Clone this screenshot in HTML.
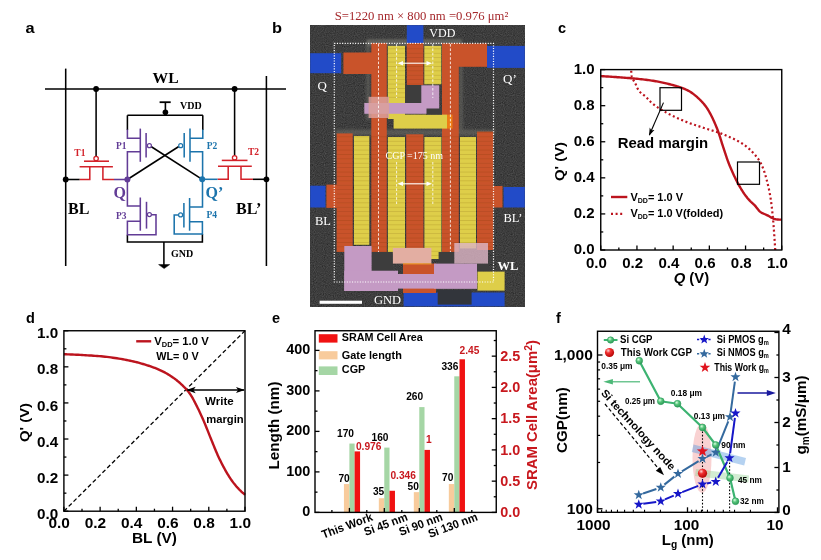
<!DOCTYPE html>
<html><head><meta charset="utf-8"><title>SRAM figure</title>
<style>html,body{margin:0;padding:0;background:#fff;}svg{display:block}</style></head>
<body><svg width="821" height="560" viewBox="0 0 821 560">
<defs>
<filter id="grain" x="0" y="0" width="100%" height="100%" color-interpolation-filters="sRGB">
<feTurbulence type="fractalNoise" baseFrequency="0.9" numOctaves="1" seed="7" result="n"/>
<feColorMatrix in="n" type="matrix" values="0.13 0.13 0.13 0 0.045  0.13 0.13 0.13 0 0.045  0.13 0.13 0.13 0 0.045  0 0 0 0 1"/>
</filter>
<filter id="soft" x="-2%" y="-2%" width="104%" height="104%"><feGaussianBlur stdDeviation="0.55"/></filter>
<filter id="soft2" x="-5%" y="-5%" width="110%" height="110%"><feGaussianBlur stdDeviation="1.3"/></filter>
<pattern id="stripes" width="4" height="4.4" patternUnits="userSpaceOnUse">
<rect x="0" y="0" width="4" height="0.8" fill="#5a2a00" fill-opacity="0.16"/>
</pattern>
<clipPath id="semclip"><rect x="310.2" y="25.2" width="214.6" height="281.2"/></clipPath>
<radialGradient id="gball" cx="0.38" cy="0.32" r="0.7">
<stop offset="0" stop-color="#d9ffe0"/><stop offset="0.45" stop-color="#55c47a"/><stop offset="1" stop-color="#2f9a55"/>
</radialGradient>
<radialGradient id="rball" cx="0.36" cy="0.3" r="0.75">
<stop offset="0" stop-color="#ffd0d0"/><stop offset="0.35" stop-color="#f03030"/><stop offset="1" stop-color="#b00000"/>
</radialGradient>
<marker id="ahk" viewBox="0 0 10 10" refX="9" refY="5" markerWidth="7" markerHeight="7" orient="auto-start-reverse"><path d="M0,1.5 L10,5 L0,8.5 L2.5,5 z" fill="#000"/></marker>
</defs>

<rect width="821" height="560" fill="#fff"/>
<text transform="translate(25.5,33) scale(1.13,1)" font-family="'Liberation Sans', sans-serif" font-size="14.5" font-weight="bold" fill="#000" text-anchor="start" >a</text>
<line x1="45" y1="89" x2="286" y2="89" stroke="#000" stroke-width="1.55" />
<line x1="65.7" y1="68.6" x2="65.7" y2="266" stroke="#000" stroke-width="1.55" />
<line x1="266.4" y1="76" x2="266.4" y2="266" stroke="#000" stroke-width="1.55" />
<circle cx="96.1" cy="89" r="2.9" fill="#000" stroke="none" stroke-width="1" />
<circle cx="234.6" cy="89" r="2.9" fill="#000" stroke="none" stroke-width="1" />
<line x1="96.1" y1="89" x2="96.1" y2="156" stroke="#000" stroke-width="1.55" />
<line x1="234.6" y1="89" x2="234.6" y2="155.5" stroke="#000" stroke-width="1.55" />
<text transform="translate(165.6,83.3)" font-family="'Liberation Serif', serif" font-size="15.6" font-weight="bold" fill="#000" text-anchor="middle" >WL</text>
<line x1="159.6" y1="102.2" x2="170.7" y2="102.2" stroke="#000" stroke-width="1.8" />
<line x1="165.4" y1="102.2" x2="165.4" y2="115.3" stroke="#000" stroke-width="1.6" />
<circle cx="165.4" cy="112.3" r="2.8" fill="#000" stroke="none" stroke-width="1" />
<text transform="translate(180,109.3)" font-family="'Liberation Serif', serif" font-size="10" font-weight="bold" fill="#000" text-anchor="start" >VDD</text>
<path d="M127.4,115.3 H202.9" stroke="#000" stroke-width="1.55" fill="none" />
<path d="M127.4,234.8 V242 H202.4 V234" stroke="#000" stroke-width="1.55" fill="none" />
<line x1="163.9" y1="242" x2="163.9" y2="265" stroke="#000" stroke-width="1.55" />
<path d="M158.6,264.6 H169.7 L164.1,268.6 Z" stroke="#000" stroke-width="0.5" fill="#000" />
<text transform="translate(171,257.4)" font-family="'Liberation Serif', serif" font-size="10" font-weight="bold" fill="#000" text-anchor="start" >GND</text>
<circle cx="96.1" cy="158.5" r="2.2" fill="#fff" stroke="#d3222a" stroke-width="1.3" />
<line x1="84" y1="161.2" x2="109" y2="161.2" stroke="#d3222a" stroke-width="1.55" />
<line x1="79.6" y1="166.8" x2="112.9" y2="166.8" stroke="#d3222a" stroke-width="1.55" />
<path d="M79.6,179.5 H89.8 V166.8 M102.9,166.8 V179.5 H114" stroke="#d3222a" stroke-width="1.55" fill="none" />
<line x1="65.7" y1="179.5" x2="79.6" y2="179.5" stroke="#000" stroke-width="1.55" />
<line x1="114" y1="179.5" x2="127.4" y2="179.5" stroke="#623c96" stroke-width="1.55" />
<circle cx="65.7" cy="179.5" r="2.9" fill="#000" stroke="none" stroke-width="1" />
<text transform="translate(74.3,156.4)" font-family="'Liberation Serif', serif" font-size="9.5" font-weight="bold" fill="#d3222a" text-anchor="start" >T1</text>
<circle cx="234.6" cy="157.8" r="2.2" fill="#fff" stroke="#d3222a" stroke-width="1.3" />
<line x1="221.8" y1="160.4" x2="247.5" y2="160.4" stroke="#d3222a" stroke-width="1.55" />
<line x1="218" y1="166.3" x2="251.8" y2="166.3" stroke="#d3222a" stroke-width="1.55" />
<path d="M217.5,179.3 H228.2 V166.3 M241,166.3 V179.3 H252.9" stroke="#d3222a" stroke-width="1.55" fill="none" />
<line x1="252.9" y1="179.3" x2="266.4" y2="179.3" stroke="#000" stroke-width="1.55" />
<line x1="202.4" y1="179.3" x2="217.5" y2="179.3" stroke="#1c74ac" stroke-width="1.55" />
<circle cx="266.4" cy="179.3" r="2.9" fill="#000" stroke="none" stroke-width="1" />
<text transform="translate(248,155.4)" font-family="'Liberation Serif', serif" font-size="9.5" font-weight="bold" fill="#d3222a" text-anchor="start" >T2</text>
<line x1="151" y1="146.5" x2="202.2" y2="179.3" stroke="#000" stroke-width="1.55" />
<line x1="178.8" y1="146.5" x2="127.4" y2="179.5" stroke="#000" stroke-width="1.55" />
<path d="M127.4,115.3 V130" stroke="#000" stroke-width="1.55" fill="none" />
<path d="M127.4,129.5 V138.2 H140.3 M140.3,151.7 H127.4 V179.5" stroke="#623c96" stroke-width="1.55" fill="none" />
<line x1="140.3" y1="128.6" x2="140.3" y2="161.8" stroke="#623c96" stroke-width="1.55" />
<line x1="146.1" y1="132.9" x2="146.1" y2="157.5" stroke="#623c96" stroke-width="1.55" />
<circle cx="149.4" cy="145.7" r="2.0" fill="#fff" stroke="#623c96" stroke-width="1.2" />
<text transform="translate(116,149)" font-family="'Liberation Serif', serif" font-size="9.5" font-weight="bold" fill="#623c96" text-anchor="start" >P1</text>
<path d="M202.8,115.3 V130" stroke="#000" stroke-width="1.55" fill="none" />
<path d="M202.8,129.5 V138.2 H190 M190,151.7 H202.6 V179.3" stroke="#1c74ac" stroke-width="1.55" fill="none" />
<line x1="190" y1="128.6" x2="190" y2="161.8" stroke="#1c74ac" stroke-width="1.55" />
<line x1="184.2" y1="132.9" x2="184.2" y2="157.5" stroke="#1c74ac" stroke-width="1.55" />
<circle cx="180.7" cy="145.7" r="2.0" fill="#fff" stroke="#1c74ac" stroke-width="1.2" />
<text transform="translate(206.8,149)" font-family="'Liberation Serif', serif" font-size="9.5" font-weight="bold" fill="#1c74ac" text-anchor="start" >P2</text>
<path d="M127.4,179.5 V206 H140.3 M140.3,221.2 H127.4 V234.8 H156 V214.7 H151.3" stroke="#623c96" stroke-width="1.55" fill="none" />
<line x1="140.3" y1="197.5" x2="140.3" y2="230.7" stroke="#623c96" stroke-width="1.55" />
<line x1="146.5" y1="201.8" x2="146.5" y2="228.6" stroke="#623c96" stroke-width="1.55" />
<circle cx="149.4" cy="214.6" r="2.0" fill="#fff" stroke="#623c96" stroke-width="1.2" />
<text transform="translate(116,218.5)" font-family="'Liberation Serif', serif" font-size="9.5" font-weight="bold" fill="#623c96" text-anchor="start" >P3</text>
<path d="M202.5,179.3 V207 H189.6 M189.6,221.7 H202.4 V234 H174.2 V214.9 H178.5" stroke="#1c74ac" stroke-width="1.55" fill="none" />
<line x1="189.6" y1="198" x2="189.6" y2="230.7" stroke="#1c74ac" stroke-width="1.55" />
<line x1="183.9" y1="202.9" x2="183.9" y2="227.5" stroke="#1c74ac" stroke-width="1.55" />
<circle cx="180.6" cy="214.9" r="2.0" fill="#fff" stroke="#1c74ac" stroke-width="1.2" />
<text transform="translate(206.4,217.9)" font-family="'Liberation Serif', serif" font-size="9.5" font-weight="bold" fill="#1c74ac" text-anchor="start" >P4</text>
<circle cx="127.4" cy="179.5" r="3" fill="#623c96" stroke="none" stroke-width="1" />
<circle cx="202.2" cy="179.3" r="3" fill="#1c74ac" stroke="none" stroke-width="1" />
<text transform="translate(113.5,197.5)" font-family="'Liberation Serif', serif" font-size="16" font-weight="bold" fill="#623c96" text-anchor="start" >Q</text>
<text transform="translate(205.5,197.5)" font-family="'Liberation Serif', serif" font-size="16" font-weight="bold" fill="#1c74ac" text-anchor="start" >Q’</text>
<text transform="translate(68,213.6)" font-family="'Liberation Serif', serif" font-size="16" font-weight="bold" fill="#000" text-anchor="start" >BL</text>
<text transform="translate(236,213.6)" font-family="'Liberation Serif', serif" font-size="16" font-weight="bold" fill="#000" text-anchor="start" >BL’</text>
<text transform="translate(272,33) scale(1.13,1)" font-family="'Liberation Sans', sans-serif" font-size="14.5" font-weight="bold" fill="#000" text-anchor="start" >b</text>
<text transform="translate(334.8,20.3)" font-family="'Liberation Serif', serif" font-size="12.3" font-weight="normal" fill="#a5282c" text-anchor="start"  textLength="173.5" lengthAdjust="spacingAndGlyphs">S=1220 nm × 800 nm =0.976 μm²</text>
<g clip-path="url(#semclip)"><g filter="url(#soft)">
<rect x="310.20" y="25.20" width="214.60" height="281.20" fill="#484848" filter="url(#grain)"/>
<g filter="url(#soft2)">
<rect x="367.00" y="39.00" width="95.00" height="7.00" fill="#6e6d68" opacity="0.7"/>
<rect x="336.00" y="129.50" width="159.00" height="6.00" fill="#6e6d68" opacity="0.55"/>
<rect x="366.00" y="40.00" width="4.00" height="80.00" fill="#6e6d68" opacity="0.5"/>
<rect x="459.00" y="66.00" width="4.00" height="64.00" fill="#6e6d68" opacity="0.5"/>
</g>
<rect x="310.20" y="53.20" width="31.00" height="20.00" fill="#234bc8" />
<rect x="406.80" y="25.20" width="16.60" height="17.80" fill="#234bc8" />
<rect x="487.00" y="45.90" width="37.80" height="22.00" fill="#234bc8" />
<rect x="310.20" y="185.70" width="15.30" height="21.80" fill="#234bc8" />
<rect x="503.60" y="187.00" width="21.20" height="20.50" fill="#234bc8" />
<rect x="403.60" y="292.50" width="101.00" height="13.90" fill="#234bc8" />
<rect x="343.40" y="52.50" width="28.60" height="21.50" fill="#c9532a" />
<rect x="371.30" y="43.00" width="15.50" height="209.00" fill="#c9532a" />
<rect x="442.00" y="43.50" width="16.80" height="208.50" fill="#c9532a" />
<rect x="442.00" y="43.50" width="45.00" height="23.30" fill="#c9532a" />
<rect x="406.80" y="43.00" width="16.60" height="42.00" fill="#c9532a" />
<rect x="387.80" y="45.90" width="17.20" height="73.10" fill="#dece48" />
<rect x="393.60" y="114.60" width="53.40" height="14.00" fill="#dece48" />
<rect x="424.30" y="45.90" width="17.00" height="38.40" fill="#dece48" />
<rect x="447.00" y="114.60" width="5.50" height="14.00" fill="#ee7d12" />
<rect x="336.60" y="133.40" width="16.10" height="118.60" fill="#c9532a" />
<rect x="354.00" y="136.00" width="15.30" height="108.80" fill="#dece48" />
<rect x="387.90" y="137.00" width="17.10" height="116.80" fill="#dece48" />
<rect x="406.20" y="134.30" width="17.20" height="139.70" fill="#c9532a" />
<rect x="424.40" y="137.00" width="17.00" height="122.00" fill="#dece48" />
<rect x="460.00" y="137.00" width="16.00" height="111.40" fill="#dece48" />
<rect x="477.00" y="131.60" width="16.20" height="118.40" fill="#c9532a" />
<rect x="326.40" y="184.60" width="10.60" height="23.30" fill="#c9532a" />
<rect x="493.00" y="186.00" width="9.50" height="21.50" fill="#c9532a" />
<rect x="336.60" y="133.40" width="16.10" height="118.60" fill="url(#stripes)" />
<rect x="354.00" y="136.00" width="15.30" height="108.80" fill="url(#stripes)" />
<rect x="387.90" y="137.00" width="17.10" height="116.80" fill="url(#stripes)" />
<rect x="406.20" y="134.30" width="17.20" height="115.70" fill="url(#stripes)" />
<rect x="424.40" y="137.00" width="17.00" height="122.00" fill="url(#stripes)" />
<rect x="460.00" y="137.00" width="16.00" height="111.40" fill="url(#stripes)" />
<rect x="477.00" y="131.60" width="16.20" height="118.40" fill="url(#stripes)" />
<rect x="371.30" y="133.00" width="15.50" height="119.00" fill="url(#stripes)" />
<rect x="442.00" y="133.00" width="16.80" height="119.00" fill="url(#stripes)" />
<rect x="387.80" y="45.90" width="17.20" height="54.10" fill="url(#stripes)" />
<rect x="424.30" y="45.90" width="17.00" height="38.40" fill="url(#stripes)" />
<rect x="406.80" y="43.00" width="16.60" height="42.00" fill="url(#stripes)" />
<rect x="405.00" y="85.00" width="16.50" height="18.00" fill="#3c3c3c" />
<rect x="426.00" y="108.00" width="16.00" height="6.60" fill="#3c3c3c" />
<rect x="421.30" y="85.30" width="17.90" height="23.20" fill="#c49ac4" />
<rect x="364.30" y="103.00" width="62.20" height="10.80" fill="#c49ac4" />
<rect x="368.60" y="96.80" width="20.40" height="21.20" fill="#dca09a" opacity="0.85"/>
<rect x="403.00" y="263.60" width="33.00" height="29.40" fill="#c9532a" />
<rect x="372.00" y="252.00" width="20.90" height="19.00" fill="#3c3c3c" />
<rect x="438.60" y="252.00" width="15.40" height="13.00" fill="#3c3c3c" />
<rect x="476.00" y="263.60" width="12.60" height="8.00" fill="#3c3c3c" />
<rect x="344.30" y="246.00" width="27.30" height="45.00" fill="#c49ac4" />
<rect x="344.30" y="270.70" width="53.70" height="20.30" fill="#c49ac4" />
<rect x="398.00" y="274.00" width="79.00" height="14.60" fill="#c49ac4" />
<rect x="434.00" y="263.60" width="43.00" height="25.00" fill="#c49ac4" />
<rect x="454.30" y="243.00" width="33.70" height="20.60" fill="#dcb4c4" opacity="0.82"/>
<rect x="392.90" y="247.90" width="38.50" height="15.70" fill="#e3aea2" />
<rect x="403.00" y="263.30" width="28.40" height="1.10" fill="#f0a030" />
<rect x="477.50" y="271.60" width="27.10" height="19.00" fill="#dece48" />
<rect x="437.70" y="290.00" width="33.90" height="14.60" fill="#33343a" />
</g></g>
<rect x="334.3" y="43.4" width="159.2" height="238.6" fill="none" stroke="#fff" stroke-width="1.2" stroke-dasharray="1.1 1.5"/>
<line x1="378.5" y1="44" x2="378.5" y2="252" stroke="#fff" stroke-width="0.9" stroke-dasharray="2.6 1.8" opacity="0.9"/>
<line x1="450.4" y1="44" x2="450.4" y2="252" stroke="#fff" stroke-width="0.9" stroke-dasharray="2.6 1.8" opacity="0.9"/>
<line x1="396.6" y1="44" x2="396.6" y2="98" stroke="#fff" stroke-width="0.9" stroke-dasharray="2.6 1.8" opacity="0.9"/>
<line x1="396.6" y1="162" x2="396.6" y2="204" stroke="#fff" stroke-width="0.9" stroke-dasharray="2.6 1.8" opacity="0.9"/>
<line x1="432.8" y1="44" x2="432.8" y2="98" stroke="#fff" stroke-width="0.9" stroke-dasharray="2.6 1.8" opacity="0.9"/>
<line x1="432.8" y1="162" x2="432.8" y2="204" stroke="#fff" stroke-width="0.9" stroke-dasharray="2.6 1.8" opacity="0.9"/>
<line x1="400.5" y1="63.2" x2="429" y2="63.2" stroke="#fff" stroke-width="1.1" />
<path d="M397.5,63.2 l5.5,-2.2 v4.4 z M432,63.2 l-5.5,-2.2 v4.4 z" fill="#fff"/>
<line x1="400.5" y1="183.8" x2="429" y2="183.8" stroke="#fff" stroke-width="1.1" />
<path d="M397.5,183.8 l5.5,-2.2 v4.4 z M432,183.8 l-5.5,-2.2 v4.4 z" fill="#fff"/>
<text transform="translate(429.3,37)" font-family="'Liberation Serif', serif" font-size="12" font-weight="normal" fill="#fff" text-anchor="start" >VDD</text>
<text transform="translate(317.5,90)" font-family="'Liberation Serif', serif" font-size="13" font-weight="normal" fill="#fff" text-anchor="start" >Q</text>
<text transform="translate(503,83.4)" font-family="'Liberation Serif', serif" font-size="13" font-weight="normal" fill="#fff" text-anchor="start" >Q’</text>
<text transform="translate(315,225.2)" font-family="'Liberation Serif', serif" font-size="12.5" font-weight="normal" fill="#fff" text-anchor="start" >BL</text>
<text transform="translate(503.5,222)" font-family="'Liberation Serif', serif" font-size="12.5" font-weight="normal" fill="#fff" text-anchor="start" >BL’</text>
<text transform="translate(497.5,269.8)" font-family="'Liberation Serif', serif" font-size="12.5" font-weight="bold" fill="#fff" text-anchor="start" >WL</text>
<text transform="translate(374,303.6)" font-family="'Liberation Serif', serif" font-size="12.5" font-weight="normal" fill="#fff" text-anchor="start" >GND</text>
<text transform="translate(385.5,159)" font-family="'Liberation Serif', serif" font-size="10" font-weight="normal" fill="#fff" text-anchor="start" >CGP =175 nm</text>
<rect x="319.60" y="300.70" width="42.40" height="3.10" fill="#fff" />
<text transform="translate(558,33)" font-family="'Liberation Sans', sans-serif" font-size="14.5" font-weight="bold" fill="#000" text-anchor="start" >c</text>
<path d="M600.75,76.09 L601.55,76.15 L602.55,76.21 L603.71,76.28 L605.02,76.36 L606.44,76.45 L607.96,76.55 L609.53,76.65 L611.14,76.75 L612.76,76.86 L614.36,76.96 L615.92,77.07 L617.40,77.18 L618.85,77.28 L620.32,77.39 L621.80,77.50 L623.29,77.60 L624.79,77.72 L626.29,77.83 L627.80,77.95 L629.31,78.07 L630.82,78.20 L632.33,78.33 L633.83,78.47 L635.32,78.62 L636.82,78.77 L638.33,78.93 L639.85,79.09 L641.37,79.26 L642.90,79.43 L644.42,79.61 L645.92,79.80 L647.41,79.98 L648.87,80.18 L650.30,80.37 L651.70,80.58 L653.06,80.78 L654.37,81.00 L655.64,81.21 L656.88,81.43 L658.08,81.65 L659.26,81.87 L660.42,82.10 L661.57,82.34 L662.72,82.59 L663.86,82.84 L665.01,83.11 L666.18,83.38 L667.36,83.67 L668.56,83.97 L669.78,84.28 L671.02,84.59 L672.26,84.91 L673.50,85.25 L674.73,85.59 L675.96,85.94 L677.16,86.30 L678.34,86.66 L679.48,87.04 L680.59,87.43 L681.66,87.82 L682.67,88.21 L683.65,88.60 L684.58,88.98 L685.48,89.37 L686.36,89.77 L687.22,90.18 L688.07,90.61 L688.91,91.06 L689.75,91.55 L690.60,92.07 L691.46,92.63 L692.34,93.23 L693.24,93.89 L694.16,94.60 L695.09,95.34 L696.02,96.13 L696.96,96.94 L697.89,97.78 L698.81,98.63 L699.71,99.50 L700.59,100.37 L701.43,101.25 L702.25,102.12 L703.01,102.97 L703.74,103.81 L704.42,104.63 L705.07,105.44 L705.68,106.25 L706.28,107.07 L706.85,107.90 L707.41,108.75 L707.97,109.64 L708.53,110.56 L709.09,111.52 L709.66,112.54 L710.25,113.62 L710.86,114.77 L711.48,115.98 L712.11,117.25 L712.74,118.57 L713.37,119.92 L714.00,121.31 L714.62,122.71 L715.23,124.12 L715.82,125.53 L716.40,126.93 L716.96,128.32 L717.50,129.67 L718.00,131.01 L718.48,132.35 L718.94,133.69 L719.39,135.03 L719.81,136.36 L720.23,137.70 L720.64,139.04 L721.05,140.38 L721.47,141.71 L721.88,143.05 L722.31,144.39 L722.74,145.73 L723.19,147.08 L723.64,148.45 L724.09,149.83 L724.55,151.21 L725.00,152.60 L725.46,153.98 L725.92,155.35 L726.37,156.70 L726.82,158.02 L727.28,159.32 L727.73,160.57 L728.17,161.78 L728.62,162.95 L729.06,164.09 L729.49,165.19 L729.93,166.26 L730.36,167.31 L730.80,168.34 L731.23,169.34 L731.67,170.34 L732.10,171.32 L732.54,172.29 L732.98,173.26 L733.42,174.23 L733.87,175.20 L734.32,176.15 L734.77,177.10 L735.22,178.03 L735.67,178.96 L736.13,179.87 L736.58,180.77 L737.04,181.66 L737.49,182.53 L737.95,183.39 L738.40,184.23 L738.85,185.06 L739.31,185.87 L739.76,186.67 L740.21,187.46 L740.67,188.24 L741.12,189.00 L741.58,189.75 L742.03,190.48 L742.49,191.20 L742.94,191.90 L743.39,192.58 L743.84,193.25 L744.28,193.90 L744.73,194.52 L745.17,195.13 L745.60,195.71 L746.04,196.28 L746.47,196.83 L746.91,197.37 L747.34,197.89 L747.78,198.41 L748.21,198.91 L748.65,199.41 L749.09,199.90 L749.53,200.39 L749.98,200.87 L750.43,201.32 L750.88,201.77 L751.34,202.19 L751.79,202.61 L752.25,203.03 L752.70,203.44 L753.16,203.86 L753.61,204.28 L754.07,204.71 L754.52,205.16 L754.96,205.62 L755.40,206.11 L755.82,206.62 L756.24,207.15 L756.65,207.69 L757.06,208.24 L757.47,208.79 L757.89,209.33 L758.32,209.86 L758.76,210.38 L759.22,210.87 L759.70,211.33 L760.21,211.76 L760.75,212.14 L761.30,212.50 L761.89,212.83 L762.48,213.14 L763.10,213.44 L763.72,213.72 L764.35,213.99 L764.98,214.25 L765.61,214.52 L766.23,214.79 L766.85,215.07 L767.45,215.36 L768.05,215.67 L768.64,216.00 L769.22,216.33 L769.81,216.67 L770.40,217.01 L770.98,217.35 L771.57,217.67 L772.15,217.98 L772.74,218.27 L773.33,218.54 L773.92,218.77 L774.51,218.97 L775.13,219.13 L775.79,219.27 L776.48,219.37 L777.18,219.45 L777.88,219.51 L778.57,219.56 L779.24,219.59 L779.87,219.61 L780.44,219.63 L780.96,219.65 L781.40,219.67 L781.75,219.69" stroke="#bc141e" stroke-width="2.4" fill="none"  stroke-linejoin="round"/>
<path d="M775.23,250.00 L775.18,249.20 L775.12,248.21 L775.05,247.05 L774.97,245.74 L774.88,244.33 L774.78,242.82 L774.68,241.25 L774.58,239.64 L774.47,238.03 L774.36,236.43 L774.25,234.88 L774.15,233.40 L774.04,231.96 L773.94,230.50 L773.83,229.02 L773.72,227.54 L773.61,226.04 L773.49,224.54 L773.37,223.04 L773.25,221.53 L773.12,220.03 L772.99,218.52 L772.85,217.03 L772.70,215.54 L772.55,214.05 L772.39,212.55 L772.22,211.03 L772.06,209.51 L771.88,207.99 L771.70,206.48 L771.52,204.98 L771.33,203.50 L771.14,202.04 L770.94,200.61 L770.74,199.22 L770.53,197.86 L770.32,196.56 L770.10,195.29 L769.88,194.06 L769.66,192.86 L769.44,191.68 L769.20,190.52 L768.97,189.38 L768.72,188.24 L768.46,187.10 L768.20,185.95 L767.92,184.79 L767.63,183.61 L767.33,182.41 L767.03,181.20 L766.71,179.97 L766.39,178.73 L766.05,177.49 L765.71,176.26 L765.36,175.04 L765.00,173.84 L764.63,172.67 L764.25,171.53 L763.86,170.42 L763.47,169.36 L763.07,168.35 L762.69,167.38 L762.30,166.45 L761.91,165.55 L761.52,164.67 L761.10,163.81 L760.67,162.97 L760.22,162.13 L759.73,161.29 L759.21,160.45 L758.65,159.59 L758.04,158.72 L757.38,157.82 L756.67,156.90 L755.92,155.98 L755.14,155.04 L754.32,154.11 L753.48,153.18 L752.62,152.27 L751.75,151.37 L750.87,150.49 L750.00,149.65 L749.13,148.84 L748.26,148.07 L747.42,147.35 L746.60,146.67 L745.79,146.03 L744.97,145.41 L744.15,144.82 L743.32,144.25 L742.47,143.69 L741.58,143.14 L740.66,142.58 L739.69,142.02 L738.67,141.45 L737.59,140.86 L736.43,140.25 L735.22,139.63 L733.94,139.01 L732.62,138.38 L731.26,137.75 L729.87,137.13 L728.46,136.51 L727.05,135.90 L725.63,135.31 L724.22,134.73 L722.84,134.17 L721.48,133.64 L720.13,133.14 L718.79,132.66 L717.45,132.20 L716.11,131.76 L714.76,131.33 L713.42,130.91 L712.08,130.50 L710.74,130.09 L709.40,129.68 L708.05,129.27 L706.71,128.85 L705.37,128.41 L704.01,127.97 L702.64,127.52 L701.26,127.07 L699.86,126.61 L698.47,126.16 L697.09,125.70 L695.71,125.25 L694.36,124.80 L693.03,124.34 L691.73,123.89 L690.47,123.44 L689.26,123.00 L688.09,122.56 L686.95,122.12 L685.84,121.68 L684.77,121.25 L683.72,120.81 L682.69,120.38 L681.67,119.95 L680.68,119.52 L679.69,119.08 L678.72,118.65 L677.74,118.21 L676.77,117.77 L675.80,117.32 L674.84,116.88 L673.89,116.43 L672.96,115.98 L672.03,115.52 L671.11,115.07 L670.21,114.62 L669.32,114.17 L668.45,113.71 L667.59,113.26 L666.74,112.81 L665.91,112.35 L665.09,111.90 L664.29,111.45 L663.50,111.00 L662.72,110.54 L661.95,110.09 L661.20,109.64 L660.47,109.19 L659.75,108.73 L659.05,108.28 L658.36,107.83 L657.69,107.39 L657.04,106.94 L656.41,106.50 L655.80,106.06 L655.22,105.63 L654.65,105.19 L654.10,104.76 L653.56,104.33 L653.03,103.89 L652.52,103.46 L652.01,103.03 L651.51,102.59 L651.02,102.15 L650.52,101.71 L650.05,101.27 L649.59,100.82 L649.14,100.37 L648.72,99.91 L648.29,99.46 L647.88,99.01 L647.46,98.55 L647.05,98.10 L646.62,97.64 L646.19,97.19 L645.74,96.74 L645.28,96.30 L644.79,95.86 L644.27,95.44 L643.74,95.03 L643.20,94.62 L642.65,94.21 L642.10,93.80 L641.55,93.38 L641.02,92.95 L640.50,92.51 L640.01,92.05 L639.55,91.57 L639.12,91.07 L638.73,90.54 L638.37,89.98 L638.04,89.40 L637.73,88.80 L637.43,88.19 L637.15,87.57 L636.88,86.95 L636.61,86.32 L636.35,85.69 L636.08,85.07 L635.80,84.45 L635.50,83.85 L635.19,83.26 L634.87,82.67 L634.53,82.08 L634.19,81.50 L633.85,80.92 L633.51,80.33 L633.19,79.75 L632.87,79.17 L632.58,78.58 L632.32,78.00 L632.08,77.41 L631.88,76.82 L631.72,76.20 L631.59,75.54 L631.48,74.86 L631.40,74.16 L631.34,73.46 L631.29,72.77 L631.26,72.10 L631.24,71.48 L631.22,70.90 L631.20,70.39 L631.18,69.95 L631.16,69.60" stroke="#bc141e" stroke-width="2.2" fill="none" stroke-dasharray="2 2.6" stroke-linejoin="round"/>
<rect x="600.75" y="69.6" width="181.0" height="180.4" fill="none" stroke="#000" stroke-width="1.4"/>
<line x1="600.75" y1="250.0" x2="605.25" y2="250.0" stroke="#000" stroke-width="1.3" />
<line x1="600.75" y1="213.92" x2="605.25" y2="213.92" stroke="#000" stroke-width="1.3" />
<line x1="600.75" y1="177.83999999999997" x2="605.25" y2="177.83999999999997" stroke="#000" stroke-width="1.3" />
<line x1="600.75" y1="141.76" x2="605.25" y2="141.76" stroke="#000" stroke-width="1.3" />
<line x1="600.75" y1="105.67999999999998" x2="605.25" y2="105.67999999999998" stroke="#000" stroke-width="1.3" />
<line x1="600.75" y1="69.6" x2="605.25" y2="69.6" stroke="#000" stroke-width="1.3" />
<line x1="600.75" y1="231.96" x2="603.25" y2="231.96" stroke="#000" stroke-width="1.3" />
<line x1="600.75" y1="195.88" x2="603.25" y2="195.88" stroke="#000" stroke-width="1.3" />
<line x1="600.75" y1="159.8" x2="603.25" y2="159.8" stroke="#000" stroke-width="1.3" />
<line x1="600.75" y1="123.72" x2="603.25" y2="123.72" stroke="#000" stroke-width="1.3" />
<line x1="600.75" y1="87.63999999999999" x2="603.25" y2="87.63999999999999" stroke="#000" stroke-width="1.3" />
<line x1="600.75" y1="250.0" x2="600.75" y2="245.5" stroke="#000" stroke-width="1.3" />
<line x1="636.95" y1="250.0" x2="636.95" y2="245.5" stroke="#000" stroke-width="1.3" />
<line x1="673.15" y1="250.0" x2="673.15" y2="245.5" stroke="#000" stroke-width="1.3" />
<line x1="709.35" y1="250.0" x2="709.35" y2="245.5" stroke="#000" stroke-width="1.3" />
<line x1="745.55" y1="250.0" x2="745.55" y2="245.5" stroke="#000" stroke-width="1.3" />
<line x1="781.75" y1="250.0" x2="781.75" y2="245.5" stroke="#000" stroke-width="1.3" />
<line x1="618.85" y1="250.0" x2="618.85" y2="247.5" stroke="#000" stroke-width="1.3" />
<line x1="655.05" y1="250.0" x2="655.05" y2="247.5" stroke="#000" stroke-width="1.3" />
<line x1="691.25" y1="250.0" x2="691.25" y2="247.5" stroke="#000" stroke-width="1.3" />
<line x1="727.45" y1="250.0" x2="727.45" y2="247.5" stroke="#000" stroke-width="1.3" />
<line x1="763.65" y1="250.0" x2="763.65" y2="247.5" stroke="#000" stroke-width="1.3" />
<text transform="translate(594.6,254.4) scale(1.06,1)" font-family="'Liberation Sans', sans-serif" font-size="14.2" font-weight="bold" fill="#000" text-anchor="end" >0.0</text>
<text transform="translate(596.45,267.7) scale(1.06,1)" font-family="'Liberation Sans', sans-serif" font-size="14.2" font-weight="bold" fill="#000" text-anchor="middle" >0.0</text>
<text transform="translate(594.6,218.32) scale(1.06,1)" font-family="'Liberation Sans', sans-serif" font-size="14.2" font-weight="bold" fill="#000" text-anchor="end" >0.2</text>
<text transform="translate(632.6500000000001,267.7) scale(1.06,1)" font-family="'Liberation Sans', sans-serif" font-size="14.2" font-weight="bold" fill="#000" text-anchor="middle" >0.2</text>
<text transform="translate(594.6,182.23999999999998) scale(1.06,1)" font-family="'Liberation Sans', sans-serif" font-size="14.2" font-weight="bold" fill="#000" text-anchor="end" >0.4</text>
<text transform="translate(668.85,267.7) scale(1.06,1)" font-family="'Liberation Sans', sans-serif" font-size="14.2" font-weight="bold" fill="#000" text-anchor="middle" >0.4</text>
<text transform="translate(594.6,146.16) scale(1.06,1)" font-family="'Liberation Sans', sans-serif" font-size="14.2" font-weight="bold" fill="#000" text-anchor="end" >0.6</text>
<text transform="translate(705.0500000000001,267.7) scale(1.06,1)" font-family="'Liberation Sans', sans-serif" font-size="14.2" font-weight="bold" fill="#000" text-anchor="middle" >0.6</text>
<text transform="translate(594.6,110.07999999999998) scale(1.06,1)" font-family="'Liberation Sans', sans-serif" font-size="14.2" font-weight="bold" fill="#000" text-anchor="end" >0.8</text>
<text transform="translate(741.25,267.7) scale(1.06,1)" font-family="'Liberation Sans', sans-serif" font-size="14.2" font-weight="bold" fill="#000" text-anchor="middle" >0.8</text>
<text transform="translate(594.6,74.0) scale(1.06,1)" font-family="'Liberation Sans', sans-serif" font-size="14.2" font-weight="bold" fill="#000" text-anchor="end" >1.0</text>
<text transform="translate(777.45,267.7) scale(1.06,1)" font-family="'Liberation Sans', sans-serif" font-size="14.2" font-weight="bold" fill="#000" text-anchor="middle" >1.0</text>
<text transform="translate(673.7,282.5)" font-family="'Liberation Sans', sans-serif" font-size="13.8" font-weight="bold" fill="#000" text-anchor="start"  textLength="35.5" lengthAdjust="spacingAndGlyphs"><tspan font-style="italic">Q</tspan> (V)</text>
<text transform="translate(564,161.5) rotate(-90) scale(1.14,1)" font-family="'Liberation Sans', sans-serif" font-size="13" font-weight="bold" fill="#000" text-anchor="middle" >Q' (V)</text>
<rect x="660" y="87.7" width="21.5" height="22.6" fill="none" stroke="#000" stroke-width="1.2"/>
<rect x="737.5" y="162" width="22" height="22.3" fill="none" stroke="#000" stroke-width="1.2"/>
<line x1="663.5" y1="102.6" x2="649.4" y2="135" stroke="#000" stroke-width="1.1" marker-end="url(#ahk)"/>
<text transform="translate(617.7,148.2)" font-family="'Liberation Sans', sans-serif" font-size="14.4" font-weight="bold" fill="#000" text-anchor="start"  textLength="90.5" lengthAdjust="spacingAndGlyphs">Read margin</text>
<line x1="611" y1="197" x2="627.3" y2="197" stroke="#bc141e" stroke-width="2.4" />
<text transform="translate(630.4,200.5)" font-family="'Liberation Sans', sans-serif" font-size="10.6" font-weight="bold" fill="#000" text-anchor="start"  textLength="52.6" lengthAdjust="spacingAndGlyphs">V<tspan font-size="6.8" dy="2">DD</tspan><tspan dy="-2">= 1.0 V</tspan></text>
<line x1="611" y1="213.8" x2="624" y2="213.8" stroke="#bc141e" stroke-width="2.2" stroke-dasharray="2 2.6"/>
<text transform="translate(630.4,217.3)" font-family="'Liberation Sans', sans-serif" font-size="10.6" font-weight="bold" fill="#000" text-anchor="start"  textLength="92.7" lengthAdjust="spacingAndGlyphs">V<tspan font-size="6.8" dy="2">DD</tspan><tspan dy="-2">= 1.0 V(folded)</tspan></text>
<text transform="translate(26,323)" font-family="'Liberation Sans', sans-serif" font-size="14.5" font-weight="bold" fill="#000" text-anchor="start" >d</text>
<line x1="63.9" y1="511.2" x2="245.0" y2="330.75" stroke="#000" stroke-width="1.3" stroke-dasharray="4.2 2.6"/>
<path d="M63.90,354.21 L64.85,354.25 L66.03,354.30 L67.40,354.35 L68.94,354.41 L70.62,354.47 L72.41,354.55 L74.28,354.63 L76.20,354.71 L78.14,354.80 L80.08,354.90 L81.98,355.00 L83.82,355.11 L85.64,355.22 L87.50,355.34 L89.39,355.45 L91.31,355.57 L93.25,355.70 L95.21,355.83 L97.18,355.98 L99.15,356.13 L101.13,356.30 L103.10,356.49 L105.06,356.69 L107.00,356.92 L108.95,357.16 L110.92,357.42 L112.91,357.69 L114.90,357.98 L116.90,358.29 L118.89,358.61 L120.86,358.94 L122.80,359.27 L124.72,359.62 L126.59,359.98 L128.42,360.34 L130.18,360.70 L131.90,361.08 L133.59,361.47 L135.24,361.87 L136.86,362.28 L138.44,362.69 L140.00,363.12 L141.52,363.55 L143.01,363.99 L144.47,364.43 L145.89,364.87 L147.29,365.31 L148.65,365.76 L149.98,366.20 L151.27,366.64 L152.51,367.08 L153.73,367.53 L154.91,367.98 L156.06,368.43 L157.19,368.89 L158.29,369.36 L159.38,369.84 L160.46,370.33 L161.53,370.83 L162.60,371.35 L163.66,371.88 L164.69,372.43 L165.72,372.99 L166.72,373.56 L167.71,374.14 L168.69,374.72 L169.65,375.32 L170.59,375.92 L171.51,376.53 L172.42,377.15 L173.31,377.77 L174.19,378.39 L175.05,379.02 L175.89,379.66 L176.72,380.30 L177.52,380.96 L178.32,381.61 L179.09,382.28 L179.85,382.95 L180.60,383.62 L181.32,384.30 L182.04,384.97 L182.74,385.65 L183.43,386.33 L184.09,386.99 L184.73,387.64 L185.35,388.28 L185.95,388.91 L186.53,389.54 L187.10,390.19 L187.67,390.85 L188.23,391.53 L188.79,392.24 L189.35,392.99 L189.91,393.78 L190.49,394.63 L191.07,395.52 L191.65,396.46 L192.22,397.43 L192.80,398.43 L193.37,399.47 L193.94,400.53 L194.51,401.61 L195.08,402.72 L195.65,403.84 L196.23,404.97 L196.80,406.11 L197.37,407.26 L197.94,408.42 L198.52,409.59 L199.09,410.78 L199.66,411.99 L200.23,413.21 L200.80,414.44 L201.37,415.70 L201.95,416.97 L202.52,418.26 L203.10,419.57 L203.67,420.89 L204.25,422.24 L204.84,423.61 L205.42,425.02 L206.01,426.46 L206.60,427.93 L207.19,429.41 L207.78,430.90 L208.38,432.40 L208.97,433.89 L209.56,435.38 L210.15,436.86 L210.73,438.31 L211.32,439.74 L211.89,441.16 L212.47,442.57 L213.04,443.98 L213.62,445.39 L214.19,446.79 L214.76,448.18 L215.33,449.55 L215.90,450.92 L216.47,452.26 L217.04,453.58 L217.62,454.89 L218.20,456.16 L218.78,457.42 L219.37,458.66 L219.95,459.88 L220.54,461.09 L221.14,462.28 L221.73,463.45 L222.32,464.60 L222.91,465.73 L223.50,466.85 L224.09,467.94 L224.68,469.01 L225.26,470.06 L225.84,471.08 L226.42,472.09 L226.99,473.08 L227.57,474.04 L228.14,474.99 L228.71,475.92 L229.28,476.82 L229.85,477.71 L230.43,478.58 L231.00,479.43 L231.57,480.25 L232.14,481.06 L232.72,481.86 L233.30,482.63 L233.88,483.38 L234.47,484.11 L235.06,484.82 L235.64,485.51 L236.22,486.19 L236.80,486.84 L237.37,487.48 L237.93,488.10 L238.48,488.69 L239.02,489.28 L239.57,489.85 L240.14,490.41 L240.72,490.97 L241.30,491.51 L241.88,492.04 L242.44,492.54 L242.98,493.01 L243.48,493.45 L243.95,493.85 L244.36,494.21 L244.71,494.52 L245.00,494.78" stroke="#bc141e" stroke-width="2.4" fill="none"  stroke-linejoin="round"/>
<rect x="63.9" y="330.75" width="181.1" height="180.45" fill="none" stroke="#000" stroke-width="1.4"/>
<line x1="63.9" y1="511.2" x2="68.4" y2="511.2" stroke="#000" stroke-width="1.3" />
<line x1="63.9" y1="475.11" x2="68.4" y2="475.11" stroke="#000" stroke-width="1.3" />
<line x1="63.9" y1="439.02" x2="68.4" y2="439.02" stroke="#000" stroke-width="1.3" />
<line x1="63.9" y1="402.93" x2="68.4" y2="402.93" stroke="#000" stroke-width="1.3" />
<line x1="63.9" y1="366.84000000000003" x2="68.4" y2="366.84000000000003" stroke="#000" stroke-width="1.3" />
<line x1="63.9" y1="330.75" x2="68.4" y2="330.75" stroke="#000" stroke-width="1.3" />
<line x1="63.9" y1="493.155" x2="66.4" y2="493.155" stroke="#000" stroke-width="1.3" />
<line x1="63.9" y1="457.065" x2="66.4" y2="457.065" stroke="#000" stroke-width="1.3" />
<line x1="63.9" y1="420.975" x2="66.4" y2="420.975" stroke="#000" stroke-width="1.3" />
<line x1="63.9" y1="384.885" x2="66.4" y2="384.885" stroke="#000" stroke-width="1.3" />
<line x1="63.9" y1="348.79499999999996" x2="66.4" y2="348.79499999999996" stroke="#000" stroke-width="1.3" />
<line x1="63.9" y1="511.2" x2="63.9" y2="506.7" stroke="#000" stroke-width="1.3" />
<line x1="100.12" y1="511.2" x2="100.12" y2="506.7" stroke="#000" stroke-width="1.3" />
<line x1="136.34" y1="511.2" x2="136.34" y2="506.7" stroke="#000" stroke-width="1.3" />
<line x1="172.56" y1="511.2" x2="172.56" y2="506.7" stroke="#000" stroke-width="1.3" />
<line x1="208.78" y1="511.2" x2="208.78" y2="506.7" stroke="#000" stroke-width="1.3" />
<line x1="245.0" y1="511.2" x2="245.0" y2="506.7" stroke="#000" stroke-width="1.3" />
<line x1="82.00999999999999" y1="511.2" x2="82.00999999999999" y2="508.7" stroke="#000" stroke-width="1.3" />
<line x1="118.22999999999999" y1="511.2" x2="118.22999999999999" y2="508.7" stroke="#000" stroke-width="1.3" />
<line x1="154.45" y1="511.2" x2="154.45" y2="508.7" stroke="#000" stroke-width="1.3" />
<line x1="190.67" y1="511.2" x2="190.67" y2="508.7" stroke="#000" stroke-width="1.3" />
<line x1="226.89000000000001" y1="511.2" x2="226.89000000000001" y2="508.7" stroke="#000" stroke-width="1.3" />
<text transform="translate(58.3,518.8) scale(1.03,1)" font-family="'Liberation Sans', sans-serif" font-size="14.8" font-weight="bold" fill="#000" text-anchor="end" >0.0</text>
<text transform="translate(59.199999999999996,527.7) scale(1.03,1)" font-family="'Liberation Sans', sans-serif" font-size="15" font-weight="bold" fill="#000" text-anchor="middle" >0.0</text>
<text transform="translate(58.3,482.71000000000004) scale(1.03,1)" font-family="'Liberation Sans', sans-serif" font-size="14.8" font-weight="bold" fill="#000" text-anchor="end" >0.2</text>
<text transform="translate(95.42,527.7) scale(1.03,1)" font-family="'Liberation Sans', sans-serif" font-size="15" font-weight="bold" fill="#000" text-anchor="middle" >0.2</text>
<text transform="translate(58.3,446.62) scale(1.03,1)" font-family="'Liberation Sans', sans-serif" font-size="14.8" font-weight="bold" fill="#000" text-anchor="end" >0.4</text>
<text transform="translate(131.64000000000001,527.7) scale(1.03,1)" font-family="'Liberation Sans', sans-serif" font-size="15" font-weight="bold" fill="#000" text-anchor="middle" >0.4</text>
<text transform="translate(58.3,410.53000000000003) scale(1.03,1)" font-family="'Liberation Sans', sans-serif" font-size="14.8" font-weight="bold" fill="#000" text-anchor="end" >0.6</text>
<text transform="translate(167.86,527.7) scale(1.03,1)" font-family="'Liberation Sans', sans-serif" font-size="15" font-weight="bold" fill="#000" text-anchor="middle" >0.6</text>
<text transform="translate(58.3,374.44000000000005) scale(1.03,1)" font-family="'Liberation Sans', sans-serif" font-size="14.8" font-weight="bold" fill="#000" text-anchor="end" >0.8</text>
<text transform="translate(204.08,527.7) scale(1.03,1)" font-family="'Liberation Sans', sans-serif" font-size="15" font-weight="bold" fill="#000" text-anchor="middle" >0.8</text>
<text transform="translate(58.3,338.35) scale(1.03,1)" font-family="'Liberation Sans', sans-serif" font-size="14.8" font-weight="bold" fill="#000" text-anchor="end" >1.0</text>
<text transform="translate(240.3,527.7) scale(1.03,1)" font-family="'Liberation Sans', sans-serif" font-size="15" font-weight="bold" fill="#000" text-anchor="middle" >1.0</text>
<text transform="translate(132,543.2)" font-family="'Liberation Sans', sans-serif" font-size="15.3" font-weight="bold" fill="#000" text-anchor="start"  textLength="45" lengthAdjust="spacingAndGlyphs">BL (V)</text>
<text transform="translate(29.3,422.5) rotate(-90) scale(1.14,1)" font-family="'Liberation Sans', sans-serif" font-size="13" font-weight="bold" fill="#000" text-anchor="middle" >Q' (V)</text>
<line x1="136.2" y1="341.3" x2="151.2" y2="341.3" stroke="#bc141e" stroke-width="2.4" />
<text transform="translate(154.2,345)" font-family="'Liberation Sans', sans-serif" font-size="11.4" font-weight="bold" fill="#000" text-anchor="start"  textLength="54.5" lengthAdjust="spacingAndGlyphs">V<tspan font-size="7.5" dy="2">DD</tspan><tspan dy="-2">= 1.0 V</tspan></text>
<text transform="translate(156.2,360)" font-family="'Liberation Sans', sans-serif" font-size="11.4" font-weight="bold" fill="#000" text-anchor="start"  textLength="42.5" lengthAdjust="spacingAndGlyphs">WL= 0 V</text>
<line x1="187.5" y1="390" x2="244" y2="390" stroke="#000" stroke-width="1.3" marker-end="url(#ahk)" marker-start="url(#ahk)"/>
<text transform="translate(205,404.5)" font-family="'Liberation Sans', sans-serif" font-size="11.2" font-weight="bold" fill="#000" text-anchor="start"  textLength="28.7" lengthAdjust="spacingAndGlyphs">Write</text>
<text transform="translate(206.2,422.5)" font-family="'Liberation Sans', sans-serif" font-size="11.2" font-weight="bold" fill="#000" text-anchor="start"  textLength="37.5" lengthAdjust="spacingAndGlyphs">margin</text>
<text transform="translate(272,322.5)" font-family="'Liberation Sans', sans-serif" font-size="14.5" font-weight="bold" fill="#000" text-anchor="start" >e</text>
<rect x="343.93" y="484.05" width="5.45" height="28.35" fill="#f8cb9c" />
<rect x="349.38" y="443.55" width="5.25" height="68.85" fill="#a5d6a5" />
<rect x="354.62" y="451.40" width="5.45" height="61.00" fill="#f01212" />
<rect x="378.82" y="498.22" width="5.45" height="14.18" fill="#f8cb9c" />
<rect x="384.27" y="447.60" width="5.25" height="64.80" fill="#a5d6a5" />
<rect x="389.52" y="490.77" width="5.45" height="21.62" fill="#f01212" />
<rect x="413.82" y="492.15" width="5.45" height="20.25" fill="#f8cb9c" />
<rect x="419.27" y="407.10" width="5.25" height="105.30" fill="#a5d6a5" />
<rect x="424.52" y="449.90" width="5.45" height="62.50" fill="#f01212" />
<rect x="448.82" y="484.05" width="5.45" height="28.35" fill="#f8cb9c" />
<rect x="454.27" y="376.32" width="5.25" height="136.08" fill="#a5d6a5" />
<rect x="459.52" y="359.27" width="5.45" height="153.12" fill="#f01212" />
<rect x="315.0" y="330.75" width="181.25" height="181.64999999999998" fill="none" stroke="#000" stroke-width="1.4"/>
<line x1="315.0" y1="512.4" x2="319.5" y2="512.4" stroke="#000" stroke-width="1.3" />
<line x1="315.0" y1="471.9" x2="319.5" y2="471.9" stroke="#000" stroke-width="1.3" />
<line x1="315.0" y1="431.4" x2="319.5" y2="431.4" stroke="#000" stroke-width="1.3" />
<line x1="315.0" y1="390.9" x2="319.5" y2="390.9" stroke="#000" stroke-width="1.3" />
<line x1="315.0" y1="350.4" x2="319.5" y2="350.4" stroke="#000" stroke-width="1.3" />
<line x1="315.0" y1="492.15" x2="317.5" y2="492.15" stroke="#000" stroke-width="1.3" />
<line x1="315.0" y1="451.65" x2="317.5" y2="451.65" stroke="#000" stroke-width="1.3" />
<line x1="315.0" y1="411.15" x2="317.5" y2="411.15" stroke="#000" stroke-width="1.3" />
<line x1="315.0" y1="370.65" x2="317.5" y2="370.65" stroke="#000" stroke-width="1.3" />
<line x1="349.4" y1="512.4" x2="349.4" y2="507.9" stroke="#000" stroke-width="1.3" />
<line x1="384.29999999999995" y1="512.4" x2="384.29999999999995" y2="507.9" stroke="#000" stroke-width="1.3" />
<line x1="419.29999999999995" y1="512.4" x2="419.29999999999995" y2="507.9" stroke="#000" stroke-width="1.3" />
<line x1="454.29999999999995" y1="512.4" x2="454.29999999999995" y2="507.9" stroke="#000" stroke-width="1.3" />
<line x1="331.9" y1="512.4" x2="331.9" y2="509.9" stroke="#000" stroke-width="1.3" />
<line x1="366.79999999999995" y1="512.4" x2="366.79999999999995" y2="509.9" stroke="#000" stroke-width="1.3" />
<line x1="401.79999999999995" y1="512.4" x2="401.79999999999995" y2="509.9" stroke="#000" stroke-width="1.3" />
<line x1="436.79999999999995" y1="512.4" x2="436.79999999999995" y2="509.9" stroke="#000" stroke-width="1.3" />
<line x1="471.79999999999995" y1="512.4" x2="471.79999999999995" y2="509.9" stroke="#000" stroke-width="1.3" />
<line x1="496.25" y1="512.4" x2="491.75" y2="512.4" stroke="#000" stroke-width="1.3" />
<line x1="496.25" y1="481.15" x2="491.75" y2="481.15" stroke="#000" stroke-width="1.3" />
<line x1="496.25" y1="449.9" x2="491.75" y2="449.9" stroke="#000" stroke-width="1.3" />
<line x1="496.25" y1="418.65" x2="491.75" y2="418.65" stroke="#000" stroke-width="1.3" />
<line x1="496.25" y1="387.4" x2="491.75" y2="387.4" stroke="#000" stroke-width="1.3" />
<line x1="496.25" y1="356.15" x2="491.75" y2="356.15" stroke="#000" stroke-width="1.3" />
<line x1="496.25" y1="496.775" x2="493.75" y2="496.775" stroke="#000" stroke-width="1.3" />
<line x1="496.25" y1="465.525" x2="493.75" y2="465.525" stroke="#000" stroke-width="1.3" />
<line x1="496.25" y1="434.275" x2="493.75" y2="434.275" stroke="#000" stroke-width="1.3" />
<line x1="496.25" y1="403.025" x2="493.75" y2="403.025" stroke="#000" stroke-width="1.3" />
<line x1="496.25" y1="371.775" x2="493.75" y2="371.775" stroke="#000" stroke-width="1.3" />
<line x1="496.25" y1="340.525" x2="493.75" y2="340.525" stroke="#000" stroke-width="1.3" />
<text transform="translate(310.3,516.3) scale(1.03,1)" font-family="'Liberation Sans', sans-serif" font-size="14" font-weight="bold" fill="#000" text-anchor="end" >0</text>
<text transform="translate(310.3,475.79999999999995) scale(1.03,1)" font-family="'Liberation Sans', sans-serif" font-size="14" font-weight="bold" fill="#000" text-anchor="end" >100</text>
<text transform="translate(310.3,435.29999999999995) scale(1.03,1)" font-family="'Liberation Sans', sans-serif" font-size="14" font-weight="bold" fill="#000" text-anchor="end" >200</text>
<text transform="translate(310.3,394.79999999999995) scale(1.03,1)" font-family="'Liberation Sans', sans-serif" font-size="14" font-weight="bold" fill="#000" text-anchor="end" >300</text>
<text transform="translate(310.3,354.29999999999995) scale(1.03,1)" font-family="'Liberation Sans', sans-serif" font-size="14" font-weight="bold" fill="#000" text-anchor="end" >400</text>
<text transform="translate(500.3,517.0) scale(1.03,1)" font-family="'Liberation Sans', sans-serif" font-size="14" font-weight="bold" fill="#c8181e" text-anchor="start" >0.0</text>
<text transform="translate(500.3,485.75) scale(1.03,1)" font-family="'Liberation Sans', sans-serif" font-size="14" font-weight="bold" fill="#c8181e" text-anchor="start" >0.5</text>
<text transform="translate(500.3,454.5) scale(1.03,1)" font-family="'Liberation Sans', sans-serif" font-size="14" font-weight="bold" fill="#c8181e" text-anchor="start" >1.0</text>
<text transform="translate(500.3,423.25) scale(1.03,1)" font-family="'Liberation Sans', sans-serif" font-size="14" font-weight="bold" fill="#c8181e" text-anchor="start" >1.5</text>
<text transform="translate(500.3,392.0) scale(1.03,1)" font-family="'Liberation Sans', sans-serif" font-size="14" font-weight="bold" fill="#c8181e" text-anchor="start" >2.0</text>
<text transform="translate(500.3,360.75) scale(1.03,1)" font-family="'Liberation Sans', sans-serif" font-size="14" font-weight="bold" fill="#c8181e" text-anchor="start" >2.5</text>
<text transform="translate(279.3,425.5) rotate(-90)" font-family="'Liberation Sans', sans-serif" font-size="14.6" font-weight="bold" fill="#000" text-anchor="middle"  textLength="88" lengthAdjust="spacingAndGlyphs">Length (nm)</text>
<text transform="translate(537.2,415) rotate(-90)" font-family="'Liberation Sans', sans-serif" font-size="14.2" font-weight="bold" fill="#c8181e" text-anchor="middle"  textLength="150" lengthAdjust="spacingAndGlyphs">SRAM Cell Area(μm<tspan font-size="10" dy="-5">2</tspan><tspan dy="5">)</tspan></text>
<rect x="318.80" y="334.20" width="18.70" height="8.40" fill="#f01212" />
<rect x="318.80" y="351.20" width="18.70" height="8.20" fill="#f8cb9c" />
<rect x="318.80" y="366.40" width="18.70" height="8.60" fill="#a5d6a5" />
<text transform="translate(341.8,341.4)" font-family="'Liberation Sans', sans-serif" font-size="10.9" font-weight="bold" fill="#000" text-anchor="start"  textLength="81" lengthAdjust="spacingAndGlyphs">SRAM Cell Area</text>
<text transform="translate(341.8,358.8)" font-family="'Liberation Sans', sans-serif" font-size="10.9" font-weight="bold" fill="#000" text-anchor="start"  textLength="60" lengthAdjust="spacingAndGlyphs">Gate length</text>
<text transform="translate(341.8,373.4)" font-family="'Liberation Sans', sans-serif" font-size="10.9" font-weight="bold" fill="#000" text-anchor="start"  textLength="23.5" lengthAdjust="spacingAndGlyphs">CGP</text>
<text transform="translate(337.0,436.5)" font-family="'Liberation Sans', sans-serif" font-size="10.2" font-weight="bold" fill="#000" text-anchor="start" >170</text>
<text transform="translate(371.5,440.6)" font-family="'Liberation Sans', sans-serif" font-size="10.2" font-weight="bold" fill="#000" text-anchor="start" >160</text>
<text transform="translate(406.2,399.6)" font-family="'Liberation Sans', sans-serif" font-size="10.2" font-weight="bold" fill="#000" text-anchor="start" >260</text>
<text transform="translate(441.4,369.6)" font-family="'Liberation Sans', sans-serif" font-size="10.2" font-weight="bold" fill="#000" text-anchor="start" >336</text>
<text transform="translate(338.4,481.6)" font-family="'Liberation Sans', sans-serif" font-size="10.2" font-weight="bold" fill="#000" text-anchor="start" >70</text>
<text transform="translate(372.9,495.3)" font-family="'Liberation Sans', sans-serif" font-size="10.2" font-weight="bold" fill="#000" text-anchor="start" >35</text>
<text transform="translate(407.6,489.6)" font-family="'Liberation Sans', sans-serif" font-size="10.2" font-weight="bold" fill="#000" text-anchor="start" >50</text>
<text transform="translate(442.1,481.4)" font-family="'Liberation Sans', sans-serif" font-size="10.2" font-weight="bold" fill="#000" text-anchor="start" >70</text>
<text transform="translate(355.9,449.6)" font-family="'Liberation Sans', sans-serif" font-size="10.2" font-weight="bold" fill="#c8181e" text-anchor="start" >0.976</text>
<text transform="translate(390.4,479.2)" font-family="'Liberation Sans', sans-serif" font-size="10.2" font-weight="bold" fill="#c8181e" text-anchor="start" >0.346</text>
<text transform="translate(426.1,443.4)" font-family="'Liberation Sans', sans-serif" font-size="10.2" font-weight="bold" fill="#c8181e" text-anchor="start" >1</text>
<text transform="translate(459.6,354.2)" font-family="'Liberation Sans', sans-serif" font-size="10.2" font-weight="bold" fill="#c8181e" text-anchor="start" >2.45</text>
<text transform="translate(373.5,520.0) rotate(-20.5) scale(0.94,1)" font-family="'Liberation Sans', sans-serif" font-size="11.8" font-weight="bold" fill="#000" text-anchor="end" >This Work</text>
<text transform="translate(408.4,520.0) rotate(-20.5) scale(0.94,1)" font-family="'Liberation Sans', sans-serif" font-size="11.8" font-weight="bold" fill="#000" text-anchor="end" >Si 45 nm</text>
<text transform="translate(443.4,520.0) rotate(-20.5) scale(0.94,1)" font-family="'Liberation Sans', sans-serif" font-size="11.8" font-weight="bold" fill="#000" text-anchor="end" >Si 90 nm</text>
<text transform="translate(478.4,520.0) rotate(-20.5) scale(0.94,1)" font-family="'Liberation Sans', sans-serif" font-size="11.8" font-weight="bold" fill="#000" text-anchor="end" >Si 130 nm</text>
<text transform="translate(556,322.5)" font-family="'Liberation Sans', sans-serif" font-size="14.5" font-weight="bold" fill="#000" text-anchor="start" >f</text>
<ellipse cx="702" cy="458" rx="9.5" ry="35" fill="#f08a8a" fill-opacity="0.38"/>
<polygon points="693.5,444.5 746,458 744.2,465.5 691.8,452" fill="#5b9be0" fill-opacity="0.45"/>
<polygon points="696,469 749,475.5 748.3,482.5 695,476" fill="#8fd08f" fill-opacity="0.4"/>
<line x1="702.5" y1="428" x2="702.5" y2="512" stroke="#000" stroke-width="1.1" stroke-dasharray="1.6 1.8"/>
<line x1="729.6" y1="459" x2="729.6" y2="512" stroke="#000" stroke-width="1.1" stroke-dasharray="1.6 1.8"/>
<path d="M639.25,360.75 L660.75,401.25 L677.50,403.75 L702.50,427.50 L715.75,445.00 L730.00,478.00 L735.50,501.25" stroke="#3cb371" stroke-width="2.2" fill="none"  stroke-linejoin="round"/>
<line x1="643.1" y1="493.52" x2="656.4" y2="488.98" stroke="#34699e" stroke-width="2.0" />
<line x1="664.35" y1="484.63" x2="674.4" y2="476.62" stroke="#34699e" stroke-width="2.0" />
<line x1="681.92" y1="471.35" x2="698.58" y2="461.15" stroke="#34699e" stroke-width="2.0" />
<line x1="706.66" y1="456.79" x2="711.59" y2="454.46" stroke="#34699e" stroke-width="2.0" />
<line x1="717.46" y1="448.23" x2="728.29" y2="421.27" stroke="#34699e" stroke-width="2.0" />
<line x1="730.63" y1="412.44" x2="734.87" y2="381.56" stroke="#34699e" stroke-width="2.0" />
<line x1="643.3" y1="503.83" x2="656.2" y2="501.92" stroke="#1616c8" stroke-width="2.0" />
<line x1="664.97" y1="499.42" x2="673.78" y2="495.58" stroke="#1616c8" stroke-width="2.0" />
<line x1="682.29" y1="492.09" x2="698.21" y2="485.91" stroke="#1616c8" stroke-width="2.0" />
<line x1="707.02" y1="483.4" x2="711.23" y2="482.6" stroke="#1616c8" stroke-width="2.0" />
<line x1="718.05" y1="477.77" x2="727.2" y2="461.98" stroke="#1616c8" stroke-width="2.0" />
<line x1="730.11" y1="453.44" x2="734.89" y2="417.81" stroke="#1616c8" stroke-width="2.0" />
<circle cx="639.25" cy="360.75" r="3.4" fill="url(#gball)" stroke="#2e9e5f" stroke-width="0.6"/>
<circle cx="660.75" cy="401.25" r="3.4" fill="url(#gball)" stroke="#2e9e5f" stroke-width="0.6"/>
<circle cx="677.5" cy="403.75" r="3.4" fill="url(#gball)" stroke="#2e9e5f" stroke-width="0.6"/>
<circle cx="702.5" cy="427.5" r="3.4" fill="url(#gball)" stroke="#2e9e5f" stroke-width="0.6"/>
<circle cx="715.75" cy="445" r="3.4" fill="url(#gball)" stroke="#2e9e5f" stroke-width="0.6"/>
<circle cx="730" cy="478" r="3.4" fill="url(#gball)" stroke="#2e9e5f" stroke-width="0.6"/>
<circle cx="735.5" cy="501.25" r="3.4" fill="url(#gball)" stroke="#2e9e5f" stroke-width="0.6"/>
<polygon points="638.75,489.70 640.00,493.28 643.79,493.36 640.77,495.66 641.87,499.29 638.75,497.12 635.63,499.29 636.73,495.66 633.71,493.36 637.50,493.28" fill="#34699e"/>
<polygon points="660.75,482.20 662.00,485.78 665.79,485.86 662.77,488.16 663.87,491.79 660.75,489.62 657.63,491.79 658.73,488.16 655.71,485.86 659.50,485.78" fill="#34699e"/>
<polygon points="678.00,468.45 679.25,472.03 683.04,472.11 680.02,474.41 681.12,478.04 678.00,475.87 674.88,478.04 675.98,474.41 672.96,472.11 676.75,472.03" fill="#34699e"/>
<polygon points="702.50,453.45 703.75,457.03 707.54,457.11 704.52,459.41 705.62,463.04 702.50,460.87 699.38,463.04 700.48,459.41 697.46,457.11 701.25,457.03" fill="#34699e"/>
<polygon points="715.75,447.20 717.00,450.78 720.79,450.86 717.77,453.16 718.87,456.79 715.75,454.62 712.63,456.79 713.73,453.16 710.71,450.86 714.50,450.78" fill="#34699e"/>
<polygon points="730.00,411.70 731.25,415.28 735.04,415.36 732.02,417.66 733.12,421.29 730.00,419.12 726.88,421.29 727.98,417.66 724.96,415.36 728.75,415.28" fill="#34699e"/>
<polygon points="735.50,371.70 736.75,375.28 740.54,375.36 737.52,377.66 738.62,381.29 735.50,379.12 732.38,381.29 733.48,377.66 730.46,375.36 734.25,375.28" fill="#34699e"/>
<polygon points="638.75,499.20 640.00,502.78 643.79,502.86 640.77,505.16 641.87,508.79 638.75,506.62 635.63,508.79 636.73,505.16 633.71,502.86 637.50,502.78" fill="#1616c8"/>
<polygon points="660.75,495.95 662.00,499.53 665.79,499.61 662.77,501.91 663.87,505.54 660.75,503.37 657.63,505.54 658.73,501.91 655.71,499.61 659.50,499.53" fill="#1616c8"/>
<polygon points="678.00,488.45 679.25,492.03 683.04,492.11 680.02,494.41 681.12,498.04 678.00,495.87 674.88,498.04 675.98,494.41 672.96,492.11 676.75,492.03" fill="#1616c8"/>
<polygon points="702.50,478.95 703.75,482.53 707.54,482.61 704.52,484.91 705.62,488.54 702.50,486.37 699.38,488.54 700.48,484.91 697.46,482.61 701.25,482.53" fill="#1616c8"/>
<polygon points="715.75,476.45 717.00,480.03 720.79,480.11 717.77,482.41 718.87,486.04 715.75,483.87 712.63,486.04 713.73,482.41 710.71,480.11 714.50,480.03" fill="#1616c8"/>
<polygon points="729.50,452.70 730.75,456.28 734.54,456.36 731.52,458.66 732.62,462.29 729.50,460.12 726.38,462.29 727.48,458.66 724.46,456.36 728.25,456.28" fill="#1616c8"/>
<polygon points="735.50,407.95 736.75,411.53 740.54,411.61 737.52,413.91 738.62,417.54 735.50,415.37 732.38,417.54 733.48,413.91 730.46,411.61 734.25,411.53" fill="#1616c8"/>
<polygon points="702.50,445.25 703.91,449.31 708.21,449.40 704.78,451.99 706.03,456.10 702.50,453.65 698.97,456.10 700.22,451.99 696.79,449.40 701.09,449.31" fill="#e0141e"/>
<circle cx="702.5" cy="473.25" r="4.6" fill="url(#rball)"/>
<rect x="597.5" y="331.25" width="181.39999999999998" height="181.04999999999995" fill="none" stroke="#000" stroke-width="1.4"/>
<line x1="597.5" y1="508.75" x2="602.5" y2="508.75" stroke="#000" stroke-width="1.3" />
<line x1="597.5" y1="355.0" x2="602.5" y2="355.0" stroke="#000" stroke-width="1.3" />
<line x1="597.5" y1="462.46663816666285" x2="600.1" y2="462.46663816666285" stroke="#000" stroke-width="1.2" />
<line x1="597.5" y1="435.39260708685185" x2="600.1" y2="435.39260708685185" stroke="#000" stroke-width="1.2" />
<line x1="597.5" y1="416.18327633332575" x2="600.1" y2="416.18327633332575" stroke="#000" stroke-width="1.2" />
<line x1="597.5" y1="401.2833618333371" x2="600.1" y2="401.2833618333371" stroke="#000" stroke-width="1.2" />
<line x1="597.5" y1="389.1092452535148" x2="600.1" y2="389.1092452535148" stroke="#000" stroke-width="1.2" />
<line x1="597.5" y1="378.816176347808" x2="600.1" y2="378.816176347808" stroke="#000" stroke-width="1.2" />
<line x1="597.5" y1="369.89991449998865" x2="600.1" y2="369.89991449998865" stroke="#000" stroke-width="1.2" />
<line x1="597.5" y1="362.0352141737038" x2="600.1" y2="362.0352141737038" stroke="#000" stroke-width="1.2" />
<line x1="597.5" y1="512.3" x2="597.5" y2="507.29999999999995" stroke="#000" stroke-width="1.3" />
<line x1="687.5" y1="512.3" x2="687.5" y2="507.29999999999995" stroke="#000" stroke-width="1.3" />
<line x1="777.5" y1="512.3" x2="777.5" y2="507.29999999999995" stroke="#000" stroke-width="1.3" />
<line x1="660.4073003902417" y1="512.3" x2="660.4073003902417" y2="509.69999999999993" stroke="#000" stroke-width="1.1" />
<line x1="644.5590870752303" y1="512.3" x2="644.5590870752303" y2="509.69999999999993" stroke="#000" stroke-width="1.1" />
<line x1="633.3146007804834" y1="512.3" x2="633.3146007804834" y2="509.69999999999993" stroke="#000" stroke-width="1.1" />
<line x1="624.5926996097583" y1="512.3" x2="624.5926996097583" y2="509.69999999999993" stroke="#000" stroke-width="1.1" />
<line x1="617.466387465472" y1="512.3" x2="617.466387465472" y2="509.69999999999993" stroke="#000" stroke-width="1.1" />
<line x1="611.4411763987168" y1="512.3" x2="611.4411763987168" y2="509.69999999999993" stroke="#000" stroke-width="1.1" />
<line x1="606.221901170725" y1="512.3" x2="606.221901170725" y2="509.69999999999993" stroke="#000" stroke-width="1.1" />
<line x1="601.6181741504607" y1="512.3" x2="601.6181741504607" y2="509.69999999999993" stroke="#000" stroke-width="1.1" />
<line x1="750.4073003902417" y1="512.3" x2="750.4073003902417" y2="509.69999999999993" stroke="#000" stroke-width="1.1" />
<line x1="734.5590870752304" y1="512.3" x2="734.5590870752304" y2="509.69999999999993" stroke="#000" stroke-width="1.1" />
<line x1="723.3146007804834" y1="512.3" x2="723.3146007804834" y2="509.69999999999993" stroke="#000" stroke-width="1.1" />
<line x1="714.5926996097583" y1="512.3" x2="714.5926996097583" y2="509.69999999999993" stroke="#000" stroke-width="1.1" />
<line x1="707.466387465472" y1="512.3" x2="707.466387465472" y2="509.69999999999993" stroke="#000" stroke-width="1.1" />
<line x1="701.4411763987168" y1="512.3" x2="701.4411763987168" y2="509.69999999999993" stroke="#000" stroke-width="1.1" />
<line x1="696.2219011707251" y1="512.3" x2="696.2219011707251" y2="509.69999999999993" stroke="#000" stroke-width="1.1" />
<line x1="691.6181741504607" y1="512.3" x2="691.6181741504607" y2="509.69999999999993" stroke="#000" stroke-width="1.1" />
<line x1="778.9" y1="512.5" x2="774.4" y2="512.5" stroke="#000" stroke-width="1.3" />
<line x1="778.9" y1="467.5" x2="774.4" y2="467.5" stroke="#000" stroke-width="1.3" />
<line x1="778.9" y1="422.5" x2="774.4" y2="422.5" stroke="#000" stroke-width="1.3" />
<line x1="778.9" y1="377.5" x2="774.4" y2="377.5" stroke="#000" stroke-width="1.3" />
<line x1="778.9" y1="332.5" x2="774.4" y2="332.5" stroke="#000" stroke-width="1.3" />
<line x1="778.9" y1="490.0" x2="776.4" y2="490.0" stroke="#000" stroke-width="1.3" />
<line x1="778.9" y1="445.0" x2="776.4" y2="445.0" stroke="#000" stroke-width="1.3" />
<line x1="778.9" y1="400.0" x2="776.4" y2="400.0" stroke="#000" stroke-width="1.3" />
<line x1="778.9" y1="355.0" x2="776.4" y2="355.0" stroke="#000" stroke-width="1.3" />
<text transform="translate(592.8,359.6) scale(1.08,1)" font-family="'Liberation Sans', sans-serif" font-size="14.4" font-weight="bold" fill="#000" text-anchor="end" >1,000</text>
<text transform="translate(592.8,513.6) scale(1.08,1)" font-family="'Liberation Sans', sans-serif" font-size="14.4" font-weight="bold" fill="#000" text-anchor="end" >100</text>
<text transform="translate(593.5,530.2) scale(1.05,1)" font-family="'Liberation Sans', sans-serif" font-size="14.6" font-weight="bold" fill="#000" text-anchor="middle" >1000</text>
<text transform="translate(686.5,530.2) scale(1.05,1)" font-family="'Liberation Sans', sans-serif" font-size="14.6" font-weight="bold" fill="#000" text-anchor="middle" >100</text>
<text transform="translate(775,530.2) scale(1.05,1)" font-family="'Liberation Sans', sans-serif" font-size="14.6" font-weight="bold" fill="#000" text-anchor="middle" >10</text>
<text transform="translate(782.3,514.5) scale(1.06,1)" font-family="'Liberation Sans', sans-serif" font-size="14.4" font-weight="bold" fill="#000" text-anchor="start" >0</text>
<text transform="translate(782.3,472.3) scale(1.06,1)" font-family="'Liberation Sans', sans-serif" font-size="14.4" font-weight="bold" fill="#000" text-anchor="start" >1</text>
<text transform="translate(782.3,427.3) scale(1.06,1)" font-family="'Liberation Sans', sans-serif" font-size="14.4" font-weight="bold" fill="#000" text-anchor="start" >2</text>
<text transform="translate(782.3,382.3) scale(1.06,1)" font-family="'Liberation Sans', sans-serif" font-size="14.4" font-weight="bold" fill="#000" text-anchor="start" >3</text>
<text transform="translate(782.3,334.3) scale(1.06,1)" font-family="'Liberation Sans', sans-serif" font-size="14.4" font-weight="bold" fill="#000" text-anchor="start" >4</text>
<text transform="translate(567,420) rotate(-90)" font-family="'Liberation Sans', sans-serif" font-size="15.2" font-weight="bold" fill="#000" text-anchor="middle" >CGP(nm)</text>
<text transform="translate(806,415) rotate(-90)" font-family="'Liberation Sans', sans-serif" font-size="15.2" font-weight="bold" fill="#000" text-anchor="middle" >g<tspan font-size="10" dy="3">m</tspan><tspan dy="-3">(mS/μm)</tspan></text>
<text transform="translate(661.8,545)" font-family="'Liberation Sans', sans-serif" font-size="15.4" font-weight="bold" fill="#000" text-anchor="start"  textLength="52" lengthAdjust="spacingAndGlyphs">L<tspan font-size="10.5" dy="3">g</tspan><tspan dy="-3"> (nm)</tspan></text>
<line x1="603.8" y1="340" x2="617.5" y2="340" stroke="#3cb371" stroke-width="2.0" />
<circle cx="610.6" cy="340" r="3.2" fill="url(#gball)" stroke="#2e9e5f" stroke-width="0.6"/>
<text transform="translate(620,343.3)" font-family="'Liberation Sans', sans-serif" font-size="10.6" font-weight="bold" fill="#000" text-anchor="start"  textLength="32.5" lengthAdjust="spacingAndGlyphs">Si CGP</text>
<circle cx="609.5" cy="352.5" r="4.6" fill="url(#rball)"/>
<text transform="translate(620.8,355.8)" font-family="'Liberation Sans', sans-serif" font-size="10.6" font-weight="bold" fill="#000" text-anchor="start"  textLength="71.2" lengthAdjust="spacingAndGlyphs">This Work CGP</text>
<line x1="697" y1="339.5" x2="711.5" y2="339.5" stroke="#1616c8" stroke-width="1.6" stroke-dasharray="2.2 1.6"/>
<polygon points="704.25,334.50 705.43,337.88 709.01,337.95 706.15,340.12 707.19,343.55 704.25,341.50 701.31,343.55 702.35,340.12 699.49,337.95 703.07,337.88" fill="#1616c8"/>
<text transform="translate(716.8,342.5)" font-family="'Liberation Sans', sans-serif" font-size="10.6" font-weight="bold" fill="#000" text-anchor="start"  textLength="52" lengthAdjust="spacingAndGlyphs">Si PMOS g<tspan font-size="6.5" dy="2">m</tspan></text>
<line x1="697" y1="353.8" x2="711.5" y2="353.8" stroke="#34699e" stroke-width="1.6" stroke-dasharray="2.2 1.6"/>
<polygon points="704.25,348.75 705.43,352.13 709.01,352.20 706.15,354.37 707.19,357.80 704.25,355.75 701.31,357.80 702.35,354.37 699.49,352.20 703.07,352.13" fill="#34699e"/>
<text transform="translate(716.8,356.3)" font-family="'Liberation Sans', sans-serif" font-size="10.6" font-weight="bold" fill="#000" text-anchor="start"  textLength="52" lengthAdjust="spacingAndGlyphs">Si NMOS g<tspan font-size="6.5" dy="2">m</tspan></text>
<polygon points="705.00,361.90 706.32,365.69 710.33,365.77 707.13,368.19 708.29,372.03 705.00,369.74 701.71,372.03 702.87,368.19 699.67,365.77 703.68,365.69" fill="#e0141e"/>
<text transform="translate(714.3,370.8)" font-family="'Liberation Sans', sans-serif" font-size="10.6" font-weight="bold" fill="#000" text-anchor="start"  textLength="54.5" lengthAdjust="spacingAndGlyphs">This Work g<tspan font-size="6.5" dy="2">m</tspan></text>
<text transform="translate(601.3,369.3)" font-family="'Liberation Sans', sans-serif" font-size="8.6" font-weight="bold" fill="#000" text-anchor="start"  textLength="31.2" lengthAdjust="spacingAndGlyphs">0.35 μm</text>
<text transform="translate(625,403.8)" font-family="'Liberation Sans', sans-serif" font-size="8.6" font-weight="bold" fill="#000" text-anchor="start"  textLength="30" lengthAdjust="spacingAndGlyphs">0.25 μm</text>
<text transform="translate(670.8,395.8)" font-family="'Liberation Sans', sans-serif" font-size="8.6" font-weight="bold" fill="#000" text-anchor="start"  textLength="31.2" lengthAdjust="spacingAndGlyphs">0.18 μm</text>
<text transform="translate(693.8,419.3)" font-family="'Liberation Sans', sans-serif" font-size="8.6" font-weight="bold" fill="#000" text-anchor="start"  textLength="31.2" lengthAdjust="spacingAndGlyphs">0.13 μm</text>
<text transform="translate(721.3,447.5)" font-family="'Liberation Sans', sans-serif" font-size="8.6" font-weight="bold" fill="#000" text-anchor="start"  textLength="24.2" lengthAdjust="spacingAndGlyphs">90 nm</text>
<text transform="translate(738,483.3)" font-family="'Liberation Sans', sans-serif" font-size="8.6" font-weight="bold" fill="#000" text-anchor="start"  textLength="24" lengthAdjust="spacingAndGlyphs">45 nm</text>
<text transform="translate(740,503.8)" font-family="'Liberation Sans', sans-serif" font-size="8.6" font-weight="bold" fill="#000" text-anchor="start"  textLength="23.8" lengthAdjust="spacingAndGlyphs">32 nm</text>
<line x1="640" y1="381.8" x2="609" y2="381.8" stroke="#4cb877" stroke-width="1.2" />
<path d="M603.4,381.8 l9.5,-2.8 v5.6 z" fill="#4cb877"/>
<line x1="737.5" y1="393" x2="770" y2="393" stroke="#1a1a9e" stroke-width="1.4" />
<path d="M775.8,393 l-9,-3 v6 z" fill="#1a1a9e"/>
<line x1="605" y1="404" x2="660" y2="470.5" stroke="#000" stroke-width="1.2" stroke-dasharray="3.6 2.4"/>
<path d="M664,475.3 l-8.2,-4.6 4.4,-3.8 z" fill="#000"/>
<text transform="translate(600.5,393.5) rotate(47.7)" font-family="'Liberation Sans', sans-serif" font-size="10.8" font-weight="bold" fill="#000" text-anchor="start"  textLength="104.5" lengthAdjust="spacingAndGlyphs">Si technology node</text>
</svg></body></html>
